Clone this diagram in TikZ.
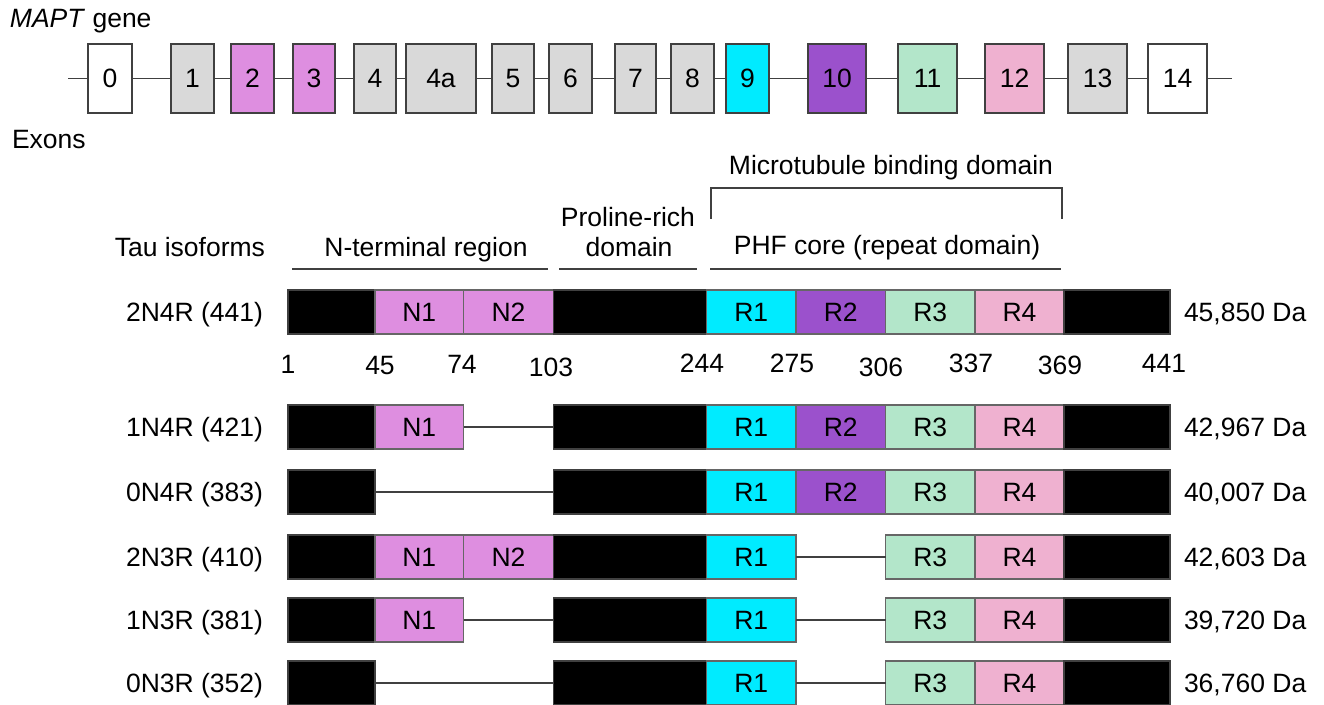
\documentclass[tikz,border=0pt]{standalone}
\usepackage{fontspec}
\setmainfont{Liberation Sans}
\definecolor{exgray}{RGB}{217,217,217}
\definecolor{violetN}{RGB}{222,142,224}
\definecolor{cyanR}{RGB}{0,235,255}
\definecolor{purpleR}{RGB}{155,81,204}
\definecolor{greenR}{RGB}{179,230,202}
\definecolor{pinkR}{RGB}{239,177,208}
\definecolor{edgegray}{RGB}{64,64,64}
% segment of an isoform bar: name, x1, x2, y-centre, style, text
\newcommand\seg[6]{%
  \pgfmathsetmacro\segc{(#2+#3)/2}%
  \pgfmathsetmacro\segw{(#3-#2)*0.5}%
  \node[segbox,#5,minimum width=\segw pt] (#1) at (\segc,#4) {#6};%
}
% exon box: name, x1, x2, fill, text
\newcommand\exon[5]{%
  \pgfmathsetmacro\segc{(#2+#3)/2}%
  \pgfmathsetmacro\segw{(#3-#2)*0.5}%
  \node[exonbox,fill=#4,minimum width=\segw pt] (#1) at (\segc,78.5) {#5};%
}
\begin{document}
\begin{tikzpicture}[x=0.5pt,y=-0.5pt,
  every node/.style={font=\fontsize{13.25}{16}\selectfont,inner sep=0pt,outer sep=0pt},
  exonbox/.style={draw=edgegray,line width=0.9pt,minimum height=34.5pt},
  segbox/.style={draw=edgegray!80,line width=0.6pt,minimum height=22pt},
  blk/.style={fill=black,draw=black!75},
  link/.style={draw=edgegray,line width=0.8pt},
  rule/.style={draw=edgegray,line width=0.8pt}]
\useasboundingbox (0,0) rectangle (1324,705);

% ---------- gene ----------
\node[anchor=base west] (gene) at (10,28) {\textit{MAPT} gene};
\node[anchor=base west] (exons) at (12,149) {Exons};
\exon{e0}{88}{132}{white}{0}
\exon{e1}{171}{214}{exgray}{1}
\exon{e2}{231}{274}{violetN}{2}
\exon{e3}{293}{335}{violetN}{3}
\exon{e4}{354}{396}{exgray}{4}
\exon{e4a}{406}{476}{exgray}{4a}
\exon{e5}{492}{534}{exgray}{5}
\exon{e6}{549}{592}{exgray}{6}
\exon{e7}{615}{656}{exgray}{7}
\exon{e8}{671}{714}{exgray}{8}
\exon{e9}{726}{769}{cyanR}{9}
\exon{e10}{808}{866}{purpleR}{10}
\exon{e11}{898}{957}{greenR}{11}
\exon{e12}{985}{1044}{pinkR}{12}
\exon{e13}{1068}{1127}{exgray}{13}
\exon{e14}{1148}{1207}{white}{14}
\coordinate (gstart) at (68,78.5);
\coordinate (gend) at (1232,78.5);
\draw[link] (gstart) -- (e0.west);
\draw[link] (e0.east) -- (e1.west);
\draw[link] (e1.east) -- (e2.west);
\draw[link] (e2.east) -- (e3.west);
\draw[link] (e3.east) -- (e4.west);
\draw[link] (e4.east) -- (e4a.west);
\draw[link] (e4a.east) -- (e5.west);
\draw[link] (e5.east) -- (e6.west);
\draw[link] (e6.east) -- (e7.west);
\draw[link] (e7.east) -- (e8.west);
\draw[link] (e8.east) -- (e9.west);
\draw[link] (e9.east) -- (e10.west);
\draw[link] (e10.east) -- (e11.west);
\draw[link] (e11.east) -- (e12.west);
\draw[link] (e12.east) -- (e13.west);
\draw[link] (e13.east) -- (e14.west);
\draw[link] (e14.east) -- (gend);

% ---------- headings ----------
\node[anchor=base] (mtbd) at (891,175) {Microtubule binding domain};
\draw[rule] (711,219) -- (711,188) -- (1062,188) -- (1062,219);
\node[anchor=base east] (tau) at (265,257) {Tau isoforms};
\node[anchor=base] (nterm) at (426,257) {N-terminal region};
\node[anchor=base] (pro1) at (628,227) {Proline-rich};
\node[anchor=base] (pro2) at (629,257) {domain};
\node[anchor=base] (phf) at (887,255) {PHF core (repeat domain)};
\draw[rule] (292,269) -- (548,269);
\draw[rule] (559,269) -- (697,269);
\draw[rule] (710,269) -- (1061,269);

% ---------- 2N4R ----------
\node[anchor=base east] (la) at (263,321.5) {2N4R (441)};
\seg{aK1}{288}{375}{312}{blk}{}
\seg{aN1}{375}{463.5}{312}{fill=violetN}{N1}
\seg{aN2}{463.5}{553.5}{312}{fill=violetN}{N2}
\seg{aK2}{553.5}{706.5}{312}{blk}{}
\seg{aR1}{706.5}{796}{312}{fill=cyanR}{R1}
\seg{aR2}{796}{885.5}{312}{fill=purpleR}{R2}
\seg{aR3}{885.5}{975}{312}{fill=greenR}{R3}
\seg{aR4}{975}{1064}{312}{fill=pinkR}{R4}
\seg{aK3}{1064}{1170}{312}{blk}{}
\node[anchor=base west] (da) at (1184,321.5) {45,850 Da};

% residue numbers
\node[anchor=base] (p1) at (288,374) {1};
\node[anchor=base] (p45) at (380,375) {45};
\node[anchor=base] (p74) at (462,374) {74};
\node[anchor=base] (p103) at (551,377) {103};
\node[anchor=base] (p244) at (702,373) {244};
\node[anchor=base] (p275) at (792,373) {275};
\node[anchor=base] (p306) at (881,377) {306};
\node[anchor=base] (p337) at (971,373) {337};
\node[anchor=base] (p369) at (1060,375) {369};
\node[anchor=base] (p441) at (1164,373) {441};

% ---------- 1N4R ----------
\node[anchor=base east] (lb) at (263,436.5) {1N4R (421)};
\seg{bK1}{288}{375}{427}{blk}{}
\seg{bN1}{375}{463.5}{427}{fill=violetN}{N1}
\seg{bK2}{553.5}{706.5}{427}{blk}{}
\seg{bR1}{706.5}{796}{427}{fill=cyanR}{R1}
\seg{bR2}{796}{885.5}{427}{fill=purpleR}{R2}
\seg{bR3}{885.5}{975}{427}{fill=greenR}{R3}
\seg{bR4}{975}{1064}{427}{fill=pinkR}{R4}
\seg{bK3}{1064}{1170}{427}{blk}{}
\draw[link] (bN1.east) -- (bK2.west);
\node[anchor=base west] (db) at (1184,436.5) {42,967 Da};

% ---------- 0N4R ----------
\node[anchor=base east] (lc) at (263,501.5) {0N4R (383)};
\seg{cK1}{288}{375}{492}{blk}{}
\seg{cK2}{553.5}{706.5}{492}{blk}{}
\seg{cR1}{706.5}{796}{492}{fill=cyanR}{R1}
\seg{cR2}{796}{885.5}{492}{fill=purpleR}{R2}
\seg{cR3}{885.5}{975}{492}{fill=greenR}{R3}
\seg{cR4}{975}{1064}{492}{fill=pinkR}{R4}
\seg{cK3}{1064}{1170}{492}{blk}{}
\draw[link] (cK1.east) -- (cK2.west);
\node[anchor=base west] (dc) at (1184,501.5) {40,007 Da};

% ---------- 2N3R ----------
\node[anchor=base east] (ld) at (263,566.5) {2N3R (410)};
\seg{dK1}{288}{375}{557}{blk}{}
\seg{dN1}{375}{463.5}{557}{fill=violetN}{N1}
\seg{dN2}{463.5}{553.5}{557}{fill=violetN}{N2}
\seg{dK2}{553.5}{706.5}{557}{blk}{}
\seg{dR1}{706.5}{796}{557}{fill=cyanR}{R1}
\seg{dR3}{885.5}{975}{557}{fill=greenR}{R3}
\seg{dR4}{975}{1064}{557}{fill=pinkR}{R4}
\seg{dK3}{1064}{1170}{557}{blk}{}
\draw[link] (dR1.east) -- (dR3.west);
\node[anchor=base west] (dd) at (1184,566.5) {42,603 Da};

% ---------- 1N3R ----------
\node[anchor=base east] (le) at (263,629.5) {1N3R (381)};
\seg{eK1}{288}{375}{620}{blk}{}
\seg{eN1}{375}{463.5}{620}{fill=violetN}{N1}
\seg{eK2}{553.5}{706.5}{620}{blk}{}
\seg{eR1}{706.5}{796}{620}{fill=cyanR}{R1}
\seg{eR3}{885.5}{975}{620}{fill=greenR}{R3}
\seg{eR4}{975}{1064}{620}{fill=pinkR}{R4}
\seg{eK3}{1064}{1170}{620}{blk}{}
\draw[link] (eN1.east) -- (eK2.west);
\draw[link] (eR1.east) -- (eR3.west);
\node[anchor=base west] (de) at (1184,629.5) {39,720 Da};

% ---------- 0N3R ----------
\node[anchor=base east] (lf) at (263,692.5) {0N3R (352)};
\seg{fK1}{288}{375}{683}{blk}{}
\seg{fK2}{553.5}{706.5}{683}{blk}{}
\seg{fR1}{706.5}{796}{683}{fill=cyanR}{R1}
\seg{fR3}{885.5}{975}{683}{fill=greenR}{R3}
\seg{fR4}{975}{1064}{683}{fill=pinkR}{R4}
\seg{fK3}{1064}{1170}{683}{blk}{}
\draw[link] (fK1.east) -- (fK2.west);
\draw[link] (fR1.east) -- (fR3.west);
\node[anchor=base west] (df) at (1184,692.5) {36,760 Da};
\end{tikzpicture}
\end{document}
